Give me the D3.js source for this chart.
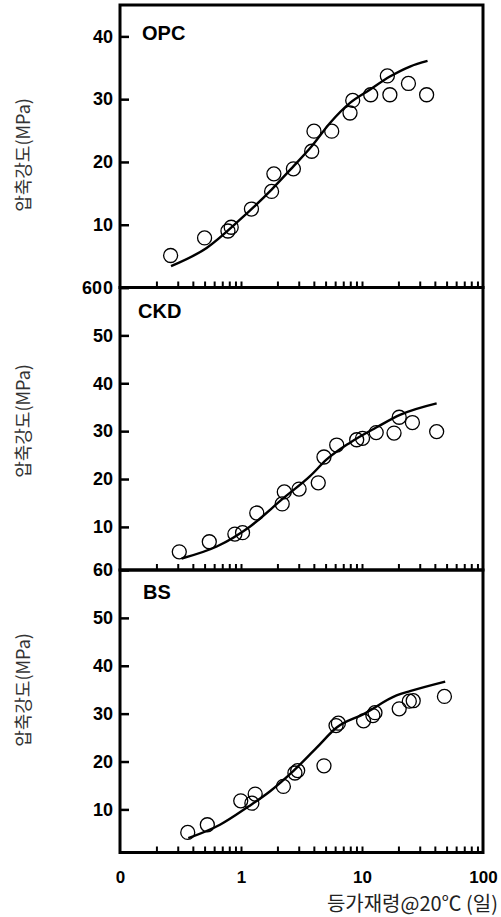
<!DOCTYPE html>
<html>
<head>
<meta charset="utf-8">
<script src="https://cdn.jsdelivr.net/npm/d3@7"></script>
<style>
  body { margin: 0; background: #fff; }
  svg { display: block; }
</style>
</head>
<body>
<svg id="chart"></svg>
<script>
// Compressive strength vs equivalent age @20C, three binders

// OPC measured points
const opcAge = [0.262, 0.50, 0.78, 0.83, 1.22, 1.79, 1.87, 2.71, 3.84, 4.01, 5.62, 7.96, 8.38, 11.8, 16.2, 17.0, 24.2, 34.2];
const opcMPa = [5.1, 7.9, 9.0, 9.6, 12.5, 15.3, 18.1, 18.9, 21.7, 24.9, 24.9, 27.8, 29.8, 30.7, 33.7, 30.7, 32.5, 30.7];
// OPC fitted curve
const opcFitAge = [0.264, 0.52, 0.98, 1.79, 2.71, 3.84, 5.44, 7.96, 11.6, 17.0, 24.9, 34.8];
const opcFit = [3.4, 6.3, 10.8, 15.6, 19.3, 22.5, 26.2, 29.4, 31.5, 33.6, 35.2, 36.1];

// CKD measured points
const ckdAge = [0.309, 0.547, 0.89, 1.03, 1.35, 2.19, 2.28, 3.02, 4.35, 4.85, 6.18, 9.04, 10.1, 13.1, 18.4, 20.3, 26.1, 41.4];
const ckdMPa = [4.8, 6.9, 8.5, 8.8, 12.9, 14.8, 17.3, 17.9, 19.2, 24.6, 27.1, 28.2, 28.5, 29.7, 29.6, 32.9, 31.8, 29.9];
// CKD fitted curve
const ckdFitAge = [0.323, 0.63, 1.19, 2.24, 3.72, 5.11, 7.96, 13.2, 20.6, 41.4];
const ckdFit = [3.4, 5.9, 10.1, 16.0, 20.6, 24.1, 27.6, 30.8, 33.4, 35.8];

// BS measured points
const bsAge = [0.363, 0.527, 0.995, 1.23, 1.31, 2.24, 2.79, 2.94, 4.85, 6.1, 6.38, 10.3, 12.3, 12.8, 20.3, 24.6, 26.5, 48];
const bsMPa = [5.2, 6.8, 11.8, 11.3, 13.2, 14.8, 17.6, 18.1, 19.1, 27.5, 28.0, 28.5, 29.6, 30.2, 31.0, 32.6, 32.7, 33.6];
// BS fitted curve
const bsFitAge = [0.367, 0.67, 1.15, 1.74, 2.7, 4.22, 6.18, 10.3, 19.3, 24.9, 48.7];
const bsFit = [4.0, 6.8, 10.6, 13.8, 18.0, 22.9, 27.1, 29.9, 33.8, 34.7, 36.7];

// Axis ticks
const xMinorTicks = [0.2, 0.3, 0.4, 0.5, 0.6, 0.7, 0.8, 0.9, 1, 2, 3, 4, 5, 6, 7, 8, 9, 10, 20, 30, 40, 50, 60, 70, 80, 90];
const xLabelTicks = [0.1, 1, 10, 100];
const xTickLabels = ["0", "1", "10", "100"];
const opcYTicks = [0, 10, 20, 30, 40];
const otherYTicks = [10, 20, 30, 40, 50, 60];

const width = 501, height = 917;
const left = 120, right = 483;
const panelH = 282.5;
const numFont = "'Liberation Sans', Arial, sans-serif";
const krFont = "'Noto Sans CJK KR', sans-serif";

const panels = [
    { name: "OPC", age: opcAge, mpa: opcMPa, fitAge: opcFitAge, fit: opcFit,
      yDomain: [0, 45], yTicks: opcYTicks, top: 5, titleX: 142, titleY: 40, labelY: 155 },
    { name: "CKD", age: ckdAge, mpa: ckdMPa, fitAge: ckdFitAge, fit: ckdFit,
      yDomain: [1, 60], yTicks: otherYTicks, top: 287.5, titleX: 138, titleY: 318, labelY: 421 },
    { name: "BS", age: bsAge, mpa: bsMPa, fitAge: bsFitAge, fit: bsFit,
      yDomain: [1, 60], yTicks: otherYTicks, top: 570, titleX: 143, titleY: 599, labelY: 690 }
];

const svg = d3.select("#chart")
    .attr("width", width)
    .attr("height", height);

const x = d3.scaleLog()
    .domain([0.1, 100])
    .range([left, right]);

panels.forEach((p, i) => {
    const bottom = p.top + panelH;
    const y = d3.scaleLinear()
        .domain(p.yDomain)
        .range([bottom, p.top]);

    const g = svg.append("g").attr("class", "panel-" + p.name);

    // Minor ticks along the bottom, pointing up
    g.append("g")
        .attr("transform", `translate(0, ${bottom})`)
        .call(d3.axisBottom(x).tickValues(xMinorTicks).tickSize(-6).tickFormat(""))
        .call(a => a.select(".domain").remove())
        .selectAll("line")
        .attr("stroke", "#000")
        .attr("stroke-width", 2);

    // Y axis with inward ticks
    const yAxis = g.append("g")
        .attr("transform", `translate(${left}, 0)`)
        .call(d3.axisLeft(y).tickValues(p.yTicks).tickSize(-9).tickPadding(7))
        .attr("font-size", 18)
        .attr("font-family", numFont)
        .attr("font-weight", "bold");
    yAxis.select(".domain").remove();
    yAxis.selectAll("line").attr("stroke", "#000").attr("stroke-width", 2.5);
    yAxis.selectAll("text").attr("fill", "#000");

    // the CKD "60" sits beside the OPC "0" in the original (reads "600")
    if (i === 1) {
        yAxis.selectAll(".tick text")
            .filter(d => d === 60)
            .attr("x", -18);
    }

    // Frame
    g.append("rect")
        .attr("x", left)
        .attr("y", p.top)
        .attr("width", right - left)
        .attr("height", panelH)
        .attr("fill", "none")
        .attr("stroke", "#000")
        .attr("stroke-width", 3);

    // Fitted curve
    const line = d3.line()
        .x(d => x(d[0]))
        .y(d => y(d[1]))
        .curve(d3.curveMonotoneX);

    g.append("path")
        .datum(p.fitAge.map((a, k) => [a, p.fit[k]]))
        .attr("fill", "none")
        .attr("stroke", "#000")
        .attr("stroke-width", 2.4)
        .attr("d", line);

    // Measured points
    g.selectAll("circle.pt")
        .data(p.age.map((a, k) => [a, p.mpa[k]]))
        .join("circle")
        .attr("class", "pt")
        .attr("cx", d => x(d[0]))
        .attr("cy", d => y(d[1]))
        .attr("r", 7)
        .attr("fill", "none")
        .attr("stroke", "#000")
        .attr("stroke-width", 1.3);

    // Panel title
    g.append("text")
        .attr("x", p.titleX)
        .attr("y", p.titleY)
        .attr("font-family", numFont)
        .attr("font-weight", "bold")
        .attr("font-size", 20)
        .text(p.name);

    // Y label
    g.append("text")
        .attr("transform", `translate(22, ${p.labelY}) rotate(-90)`)
        .attr("text-anchor", "middle")
        .attr("dominant-baseline", "central")
        .attr("font-family", krFont)
        .attr("font-size", 18)
        .attr("fill", "#333")
        .text("압축강도(MPa)");

    // X tick labels only under the last panel
    if (i === panels.length - 1) {
        const xAxis = g.append("g")
            .attr("transform", `translate(0, ${bottom})`)
            .call(d3.axisBottom(x).tickValues(xLabelTicks).tickSize(0).tickPadding(18)
                .tickFormat((d, k) => xTickLabels[k]))
            .attr("font-size", 17)
            .attr("font-family", numFont)
            .attr("font-weight", "bold");
        xAxis.select(".domain").remove();
        xAxis.selectAll("text").attr("fill", "#000");
    }
});

// X title
svg.append("text")
    .attr("x", 498)
    .attr("y", 911)
    .attr("text-anchor", "end")
    .attr("font-family", krFont)
    .attr("font-size", 20)
    .attr("fill", "#222")
    .text("등가재령@20℃ (일)");
</script>
</body>
</html>
